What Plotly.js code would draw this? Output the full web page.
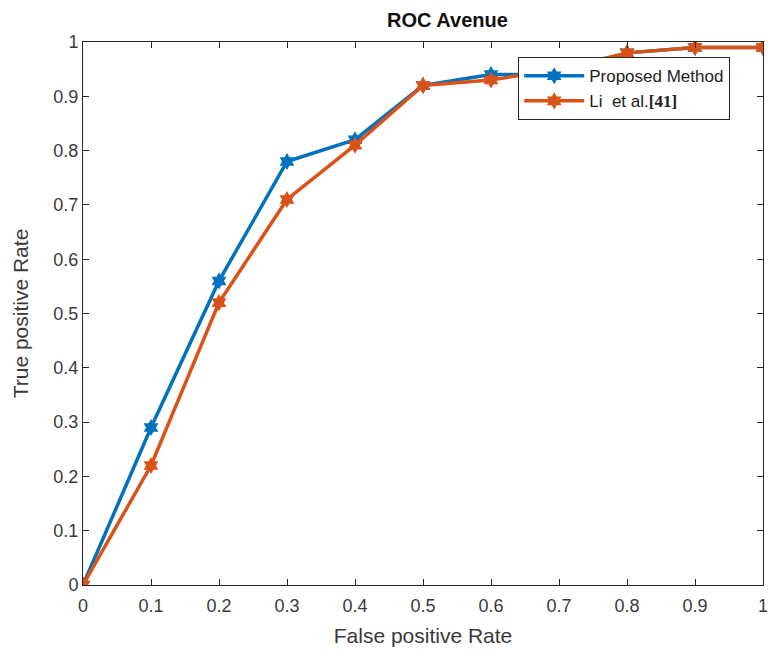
<!DOCTYPE html>
<html>
<head>
<meta charset="utf-8">
<script src="https://cdn.plot.ly/plotly-3.0.1.min.js"></script>
<style>html,body{margin:0;padding:0;background:#fff;}#chart{width:768px;height:653px;}</style>
</head>
<body>
<div id="chart"></div>
<script>
const fpr = [0, 0.1, 0.2, 0.3, 0.4, 0.5, 0.6, 0.7, 0.8, 0.9, 1.0];
const proposedTpr = [0, 0.29, 0.56, 0.78, 0.82, 0.92, 0.94, 0.94, 0.98, 0.99, 0.99];
const liTpr = [0, 0.22, 0.52, 0.71, 0.81, 0.92, 0.93, 0.95, 0.98, 0.99, 0.99];
const tickVals = [0, 0.1, 0.2, 0.3, 0.4, 0.5, 0.6, 0.7, 0.8, 0.9, 1];
const tickText = ['0', '0.1', '0.2', '0.3', '0.4', '0.5', '0.6', '0.7', '0.8', '0.9', '1'];

const traces = [
  {x: fpr, y: proposedTpr, name: 'Proposed Method', type: 'scatter', mode: 'lines+markers',
   line: {color: '#0072BD', width: 3.5}, marker: {symbol: 'hexagram', size: 13, color: '#0072BD'}},
  {x: fpr, y: liTpr, name: 'Li  et al.<span style="font-family:Liberation Serif;font-weight:bold">[41]</span>', type: 'scatter', mode: 'lines+markers',
   line: {color: '#D95319', width: 3.5}, marker: {symbol: 'hexagram', size: 13, color: '#D95319'}}
];

const axisCommon = {
  range: [0, 1], tickvals: tickVals, ticktext: tickText,
  showgrid: false, zeroline: false, showline: true, linecolor: '#262626', linewidth: 1,
  mirror: 'ticks', ticks: 'inside', ticklen: 6, tickcolor: '#262626',
  ticklabeloverflow: 'allow',
  tickfont: {family: 'Liberation Sans, Arial', size: 18, color: '#3a3a3a'}
};

const layout = {
  width: 768, height: 653,
  margin: {l: 83, r: 5, t: 42, b: 68},
  paper_bgcolor: '#ffffff', plot_bgcolor: '#ffffff',
  title: {text: '<b>ROC Avenue</b>', font: {family: 'Liberation Sans, Arial', size: 20, color: '#111'},
          x: 0.536, xanchor: 'center', xref: 'paper', y: 0.969, yanchor: 'middle'},
  xaxis: Object.assign({}, axisCommon, {
    ticklabelstandoff: 4,
    title: {text: 'False positive Rate', font: {family: 'Liberation Sans, Arial', size: 21, color: '#3a3a3a'}, standoff: 13}
  }),
  yaxis: Object.assign({}, axisCommon, {
    title: {text: 'True positive Rate', font: {family: 'Liberation Sans, Arial', size: 21, color: '#3a3a3a'}, standoff: 19}
  }),
  showlegend: true,
  legend: {x: 0.64, y: 0.972, xanchor: 'left', yanchor: 'top',
           bgcolor: '#ffffff', bordercolor: '#262626', borderwidth: 1,
           font: {family: 'Liberation Sans, Arial', size: 17, color: '#222'},
           tracegroupgap: 0, itemwidth: 60}
};

Plotly.newPlot('chart', traces, layout, {staticPlot: true, displayModeBar: false});
</script>
</body>
</html>
